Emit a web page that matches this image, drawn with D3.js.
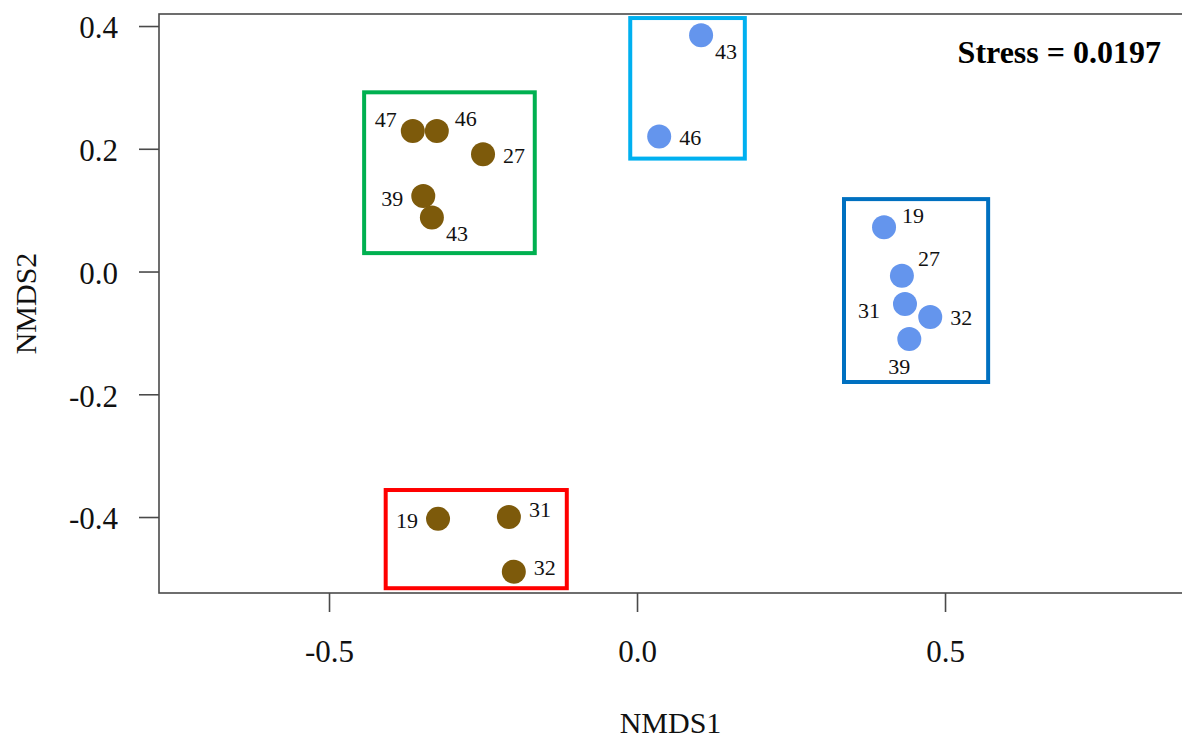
<!DOCTYPE html>
<html>
<head>
<meta charset="utf-8">
<script src="https://cdn.jsdelivr.net/npm/d3@7"></script>
<style>
  html, body { margin: 0; padding: 0; background: #fff; }
  svg { display: block; font-family: "Liberation Serif", "Times New Roman", serif; }
</style>
</head>
<body>
<svg id="chart" width="1182" height="740"></svg>
<script>
// ---- data ----
const brownIds = ["47", "46", "27", "39", "43", "19", "31", "32"];
const brownX   = [-0.364, -0.325, -0.250, -0.347, -0.333, -0.323, -0.208, -0.200];
const brownY   = [0.229, 0.229, 0.191, 0.123, 0.088, -0.403, -0.400, -0.489];
const brownLabelPos = ["ul", "ur", "r", "l", "dr", "l", "ur2", "r2"];

const blueIds = ["43", "46", "19", "27", "31", "32", "39"];
const blueX   = [0.104, 0.036, 0.401, 0.430, 0.435, 0.476, 0.442];
const blueY   = [0.385, 0.220, 0.072, -0.007, -0.053, -0.074, -0.110];
const blueLabelPos = ["dr", "r", "ur", "ur3", "l2", "r", "d"];

const groupNames = ["green", "cyan", "blue", "red"];
const groupX0 = [-0.443, -0.011, 0.336, -0.408];
const groupX1 = [-0.166, 0.175, 0.570, -0.114];
const groupY0 = [0.030, 0.184, -0.180, -0.516];
const groupY1 = [0.292, 0.413, 0.118, -0.356];

const xTicks = [-0.5, 0.0, 0.5];
const xTickLabels = ["-0.5", "0.0", "0.5"];
const yTicks = [-0.4, -0.2, 0.0, 0.2, 0.4];
const yTickLabels = ["-0.4", "-0.2", "0.0", "0.2", "0.4"];

const xTitle = "NMDS1";
const yTitle = "NMDS2";
const stressText = "Stress = 0.0197";

// ---- styles / layout ----
const W = 1182, H = 740;
const plotL = 159, plotT = 14, plotR = 1182, plotB = 593;
const brownColor = "#7D5A0B";
const blueColor = "#6495ED";
const boxColors = { green: "#00B050", cyan: "#00B0F0", blue: "#0070C0", red: "#FF0000" };
const labelOffsets = {
  l: [-31, 2], l2: [-36, 6], r: [31, 1], r2: [31, -4],
  ur: [29, -12], ur2: [31, -8], ur3: [27, -17],
  ul: [-27, -11], dr: [25, 16], d: [-10, 27]
};

const svg = d3.select("#chart");

const x = d3.scaleLinear().domain([-0.7760, 0.8847]).range([plotL, plotR]);
const y = d3.scaleLinear().domain([-0.5238, 0.4196]).range([plotB, plotT]);

// frame (left, top, bottom; right edge at image border)
const frameColor = "#4a4a4a";
svg.append("rect")
  .attr("x", plotL).attr("y", plotT)
  .attr("width", plotR - plotL + 2).attr("height", plotB - plotT)
  .attr("fill", "none").attr("stroke", frameColor).attr("stroke-width", 1.6);

// axes
const xAxis = d3.axisBottom(x).tickValues(xTicks)
  .tickFormat((d, i) => xTickLabels[i]).tickSize(19).tickPadding(0);
const gx = svg.append("g").attr("transform", `translate(0,${plotB})`).call(xAxis);
gx.select(".domain").remove();
gx.selectAll(".tick line").attr("stroke", frameColor).attr("stroke-width", 1.6);
gx.selectAll(".tick text")
  .attr("y", 69).attr("dy", 0)
  .attr("font-size", 31).attr("fill", "#111")
  .attr("font-family", "Liberation Serif, Times New Roman, serif");

const yAxis = d3.axisLeft(y).tickValues(yTicks)
  .tickFormat((d, i) => yTickLabels[i]).tickSize(20).tickPadding(21);
const gy = svg.append("g").attr("transform", `translate(${plotL},0)`).call(yAxis);
gy.select(".domain").remove();
gy.selectAll(".tick line").attr("stroke", frameColor).attr("stroke-width", 1.6);
gy.selectAll(".tick text")
  .attr("dy", "0.38em")
  .attr("font-size", 31).attr("fill", "#111")
  .attr("font-family", "Liberation Serif, Times New Roman, serif");

// axis titles
svg.append("text")
  .attr("x", (plotL + plotR) / 2).attr("y", 733)
  .attr("text-anchor", "middle").attr("font-size", 30).attr("fill", "#111")
  .text(xTitle);
svg.append("text")
  .attr("transform", `translate(36,${(plotT + plotB) / 2}) rotate(-90)`)
  .attr("text-anchor", "middle").attr("font-size", 30).attr("fill", "#111")
  .text(yTitle);

// group boxes
const boxes = groupNames.map((g, i) => ({ g, x0: groupX0[i], x1: groupX1[i], y0: groupY0[i], y1: groupY1[i] }));
svg.append("g").selectAll("rect").data(boxes).join("rect")
  .attr("x", d => x(d.x0)).attr("y", d => y(d.y1))
  .attr("width", d => x(d.x1) - x(d.x0)).attr("height", d => y(d.y0) - y(d.y1))
  .attr("fill", "none").attr("stroke", d => boxColors[d.g]).attr("stroke-width", 4);

// points
const brownPts = brownIds.map((id, i) => ({ id, x: brownX[i], y: brownY[i], pos: brownLabelPos[i], c: brownColor }));
const bluePts = blueIds.map((id, i) => ({ id, x: blueX[i], y: blueY[i], pos: blueLabelPos[i], c: blueColor }));
const pts = brownPts.concat(bluePts);

svg.append("g").selectAll("circle").data(pts).join("circle")
  .attr("cx", d => x(d.x)).attr("cy", d => y(d.y)).attr("r", 12)
  .attr("fill", d => d.c);

svg.append("g").selectAll("text").data(pts).join("text")
  .attr("x", d => x(d.x) + labelOffsets[d.pos][0])
  .attr("y", d => y(d.y) + labelOffsets[d.pos][1])
  .attr("text-anchor", "middle").attr("dominant-baseline", "central")
  .attr("font-size", 22).attr("fill", "#111")
  .text(d => d.id);

// stress annotation
svg.append("text")
  .attr("x", 1161).attr("y", 63)
  .attr("text-anchor", "end").attr("font-size", 32).attr("font-weight", "bold")
  .attr("fill", "#000")
  .text(stressText);
</script>
</body>
</html>
